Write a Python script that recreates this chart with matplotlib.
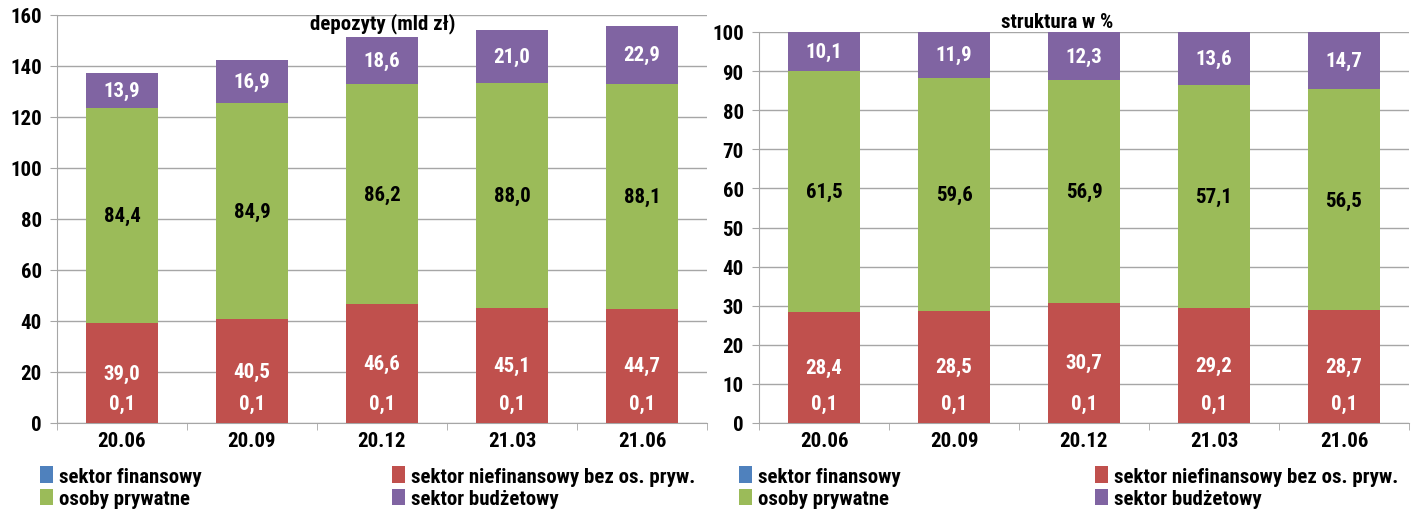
import numpy as np
import matplotlib
matplotlib.use("Agg")
import matplotlib.pyplot as plt
from matplotlib import font_manager

# wąska, pogrubiona czcionka zbliżona do Calibri Bold
WASKIE = ('condensed', 'semi-condensed', 'extra-condensed', 500, 400, 600, 300)
kandydaci = [f for f in font_manager.fontManager.ttflist
             if f.name in ('Liberation Sans Narrow', 'Roboto Condensed', 'Open Sans',
                           'Noto Sans', 'Roboto')
             and f.weight in ('bold', 700, 'semibold', 600)
             and (f.stretch in WASKIE or f.name in ('Liberation Sans Narrow', 'Roboto Condensed'))
             and f.stretch not in ('normal', 'medium', 'regular')]
if kandydaci:
    RODZINA, ROZCIAG = kandydaci[0].name, kandydaci[0].stretch
else:
    RODZINA, ROZCIAG = 'Roboto', 'normal'
plt.rcParams['font.family'] = [RODZINA, 'DejaVu Sans']
plt.rcParams['font.stretch'] = ROZCIAG
plt.rcParams['font.weight'] = 'bold'

okresy = ['20.06', '20.09', '20.12', '21.03', '21.06']
serie = ['sektor finansowy', 'sektor niefinansowy bez os. pryw.',
         'osoby prywatne', 'sektor budżetowy']
kolory = ['#4F81BD', '#C0504D', '#9BBB59', '#8064A2']

# depozyty w mld zł
dep_fin = [0.1, 0.1, 0.1, 0.1, 0.1]
dep_niefin = [39.0, 40.5, 46.6, 45.1, 44.7]
dep_osoby = [84.4, 84.9, 86.2, 88.0, 88.1]
dep_budz = [13.9, 16.9, 18.6, 21.0, 22.9]

# struktura w %
str_fin = [0.1, 0.1, 0.1, 0.1, 0.1]
str_niefin = [28.4, 28.5, 30.7, 29.2, 28.7]
str_osoby = [61.5, 59.6, 56.9, 57.1, 56.5]
str_budz = [10.1, 11.9, 12.3, 13.6, 14.7]

FS = 15
GRID = '#a6a6a6'


def fmt(v):
    return f"{v:.1f}".replace('.', ',')


def rysuj(ax, dane, ymax, krok):
    x = np.arange(len(okresy))
    dol = np.zeros(len(okresy))
    bary = []
    for i, (wart, kol) in enumerate(zip(dane, kolory)):
        wart = np.array(wart)
        b = ax.bar(x, wart, 0.55, bottom=dol, color=kol, zorder=3)
        bary.append(b)
        for xi, d, w in zip(x, dol, wart):
            if i == 0:
                # etykieta małego segmentu podniesiona nad podstawę
                ax.annotate(fmt(w), (xi, d), xytext=(0, 14), textcoords='offset points',
                            ha='center', va='center', color='white', fontsize=FS,
                            fontweight='bold', zorder=4)
            else:
                kol_txt = 'black' if i == 2 else 'white'
                ax.text(xi, d + w / 2, fmt(w), ha='center', va='center',
                        color=kol_txt, fontsize=FS, fontweight='bold', zorder=4)
        dol = dol + wart

    ax.set_xlim(-0.5, len(okresy) - 0.5)
    ax.set_ylim(0, ymax)
    ax.set_yticks(np.arange(0, ymax + 1, krok))
    ax.set_xticks(x)
    ax.set_xticklabels(okresy, fontweight='bold')
    for t in ax.get_yticklabels():
        t.set_fontweight('bold')
    ax.set_xticks(np.arange(-0.5, len(okresy)), minor=True)
    ax.tick_params(axis='x', which='major', length=0, pad=6, labelsize=FS)
    ax.tick_params(axis='x', which='minor', length=5, color=GRID, direction='out')
    ax.tick_params(axis='y', length=5, color=GRID, pad=6, labelsize=FS)
    ax.yaxis.grid(True, color=GRID, lw=1, zorder=0)
    for s in ['top', 'right']:
        ax.spines[s].set_visible(False)
    for s in ['left', 'bottom']:
        ax.spines[s].set_color(GRID)
    return bary


fig = plt.figure(figsize=(14.14, 5.10), dpi=100)
ax1 = fig.add_axes([57 / 1414, 86 / 510, 650 / 1414, 408 / 510])
ax2 = fig.add_axes([759 / 1414, 86 / 510, 650 / 1414, 391 / 510])

b1 = rysuj(ax1, [dep_fin, dep_niefin, dep_osoby, dep_budz], 160, 20)
b2 = rysuj(ax2, [str_fin, str_niefin, str_osoby, str_budz], 100, 10)

fig.text(383 / 1414, 1 - 24 / 510, 'depozyty (mld zł)', ha='center', va='center',
         fontsize=FS, fontweight='bold')
fig.text(1057 / 1414, 1 - 22 / 510, 'struktura w %', ha='center', va='center',
         fontsize=FS, fontweight='bold')

# legenda: dwie kolumny pod każdym wykresem
for bary, kol1, kol2 in [(b1, 40, 392), (b2, 739, 1095)]:
    for lx, idx in [(kol1, [0, 2]), (kol2, [1, 3])]:
        leg = fig.legend([bary[i] for i in idx], [serie[i] for i in idx],
                         loc='upper left', bbox_to_anchor=(lx / 1414, 43 / 510),
                         frameon=False, fontsize=FS, handlelength=0.6,
                         handleheight=0.85, handletextpad=0.3, labelspacing=0.15,
                         borderaxespad=0, borderpad=0)
        for t in leg.get_texts():
            t.set_fontweight('bold')

fig.savefig('out.png', dpi=100)
